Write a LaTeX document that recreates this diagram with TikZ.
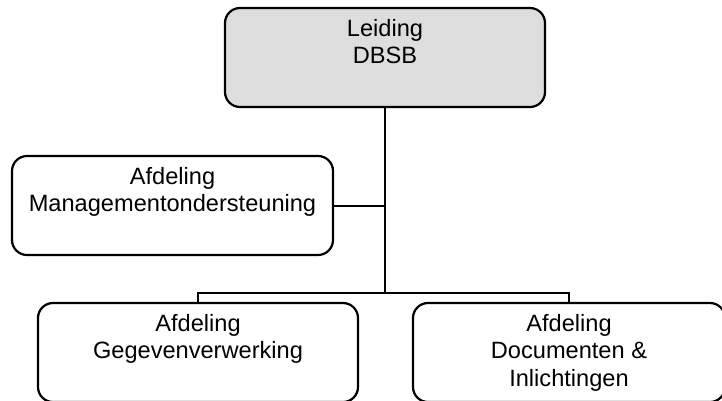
\documentclass[tikz,border=0pt]{standalone}
\usepackage{fontspec}
\setmainfont{Liberation Sans}
\definecolor{boxgray}{RGB}{221,221,221}
\begin{document}
\begin{tikzpicture}[x=1pt,y=-1pt,
  orgbox/.style={draw=black, line width=2.2pt, rounded corners=15pt, inner sep=0pt},
  orgtext/.style={anchor=north, align=center, inner sep=0pt, yshift=-12pt,
    font=\fontsize{23.6}{27.6}\selectfont},
  conn/.style={draw=black, line width=2pt}]
\clip (0,0) rectangle (722,400);
\node[orgbox, fill=boxgray, minimum width=320pt, minimum height=99pt] (top) at (385,57.5) {};
\node[orgbox, fill=white, minimum width=321pt, minimum height=99pt] (mid) at (172.5,205.5) {};
\node[orgbox, fill=white, minimum width=320pt, minimum height=99pt] (bl) at (198,352.5) {};
\node[orgbox, fill=white, minimum width=312pt, minimum height=99pt] (br) at (569,352.5) {};
\node[orgtext] (ttop) at (top.north) {Leiding\\DBSB};
\node[orgtext] (tmid) at (mid.north) {Afdeling\\Managementondersteuning};
\node[orgtext] (tbl) at (bl.north) {Afdeling\\Gegevenverwerking};
\node[orgtext] (tbr) at (br.north) {Afdeling\\Documenten \&\\Inlichtingen};
\coordinate (j) at (385,293);
\draw[conn] (top.south) -- (j);
\draw[conn] (mid.east) -- (mid.east -| j);
\draw[conn] (bl.north) |- (j) -| (br.north);
\end{tikzpicture}
\end{document}
